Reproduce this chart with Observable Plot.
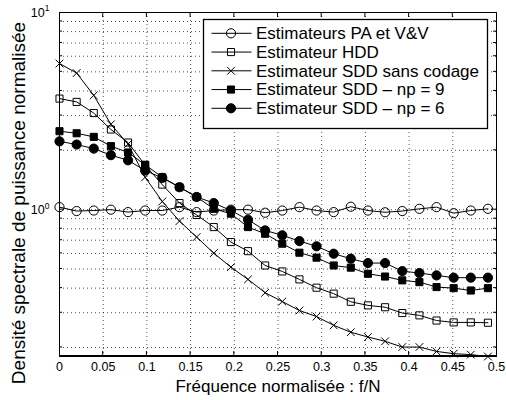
<!DOCTYPE html>
<html><head><meta charset="utf-8">
<script src="https://cdn.jsdelivr.net/npm/d3@7"></script>
<script src="https://cdn.jsdelivr.net/npm/@observablehq/plot@0.6"></script>
<style>
body{margin:0;background:#fff;}
#chart svg{font-family:"Liberation Sans",Arial,Helvetica,sans-serif;}
</style>
</head><body><div id="chart"></div>
<script>
const freq = [0, 0.0196, 0.0392, 0.0588, 0.0784, 0.098, 0.1176, 0.1373, 0.1569, 0.1765, 0.1961, 0.2157, 0.2353, 0.2549, 0.2745, 0.2941, 0.3137, 0.3333, 0.3529, 0.3725, 0.3922, 0.4118, 0.4314, 0.451, 0.4706, 0.4902];
const paVV    = [1.03, 0.984, 0.99, 1.0, 0.972, 0.99, 0.99, 1.03, 0.972, 0.99, 1.0, 1.0, 0.965, 0.99, 1.03, 0.99, 0.972, 1.035, 0.99, 0.97, 0.984, 1.01, 1.03, 0.96, 0.99, 1.01];
const hdd     = [3.66, 3.52, 3.09, 2.55, 2.19, 1.68, 1.34, 1.08, 0.94, 0.816, 0.685, 0.616, 0.521, 0.486, 0.443, 0.402, 0.375, 0.341, 0.327, 0.320, 0.299, 0.291, 0.274, 0.268, 0.268, 0.267];
const sddSans = [5.51, 4.93, 3.80, 2.71, 2.15, 1.46, 1.10, 0.875, 0.726, 0.602, 0.511, 0.443, 0.379, 0.342, 0.308, 0.287, 0.259, 0.239, 0.226, 0.215, 0.201, 0.201, 0.191, 0.186, 0.184, 0.180];
const sddNp9  = [2.50, 2.44, 2.34, 2.10, 1.95, 1.69, 1.46, 1.30, 1.16, 1.01, 0.954, 0.816, 0.755, 0.672, 0.605, 0.571, 0.521, 0.508, 0.473, 0.458, 0.438, 0.429, 0.405, 0.400, 0.389, 0.400];
const sddNp6  = [2.22, 2.14, 2.04, 1.89, 1.78, 1.58, 1.45, 1.30, 1.16, 1.08, 0.99, 0.889, 0.785, 0.741, 0.693, 0.652, 0.598, 0.564, 0.536, 0.536, 0.488, 0.477, 0.464, 0.452, 0.452, 0.452];
const seriesNames = ["Estimateurs PA et V&V", "Estimateur HDD", "Estimateur SDD sans codage", "Estimateur SDD \u2013 np = 9", "Estimateur SDD \u2013 np = 6"];
const xTicks = [0, 0.05, 0.1, 0.15, 0.2, 0.25, 0.3, 0.35, 0.4, 0.45, 0.5];
const xTickLabels = ["0", "0.05", "0.1", "0.15", "0.2", "0.25", "0.3", "0.35", "0.4", "0.45", "0.5"];
const xGrid = [0.05, 0.1, 0.15, 0.2, 0.25, 0.3, 0.35, 0.4, 0.45];
const yGrid = [0.2, 0.3, 0.4, 0.5, 0.6, 0.7, 0.8, 0.9, 1, 2, 3, 4, 5, 6, 7, 8, 9];
const yMajor = [1, 10];
const yDomain = [0.18, 10];
const xLabel = "Fr\u00e9quence normalis\u00e9e : f/N";
const yLabel = "Densit\u00e9 spectrale de puissance normalis\u00e9e";

const seriesValues = [paVV, hdd, sddSans, sddNp9, sddNp6];
const seriesStyle = [
  {symbol: "circle", r: 4.6, fill: "none"},
  {symbol: "square", r: 4.0, fill: "none"},
  {symbol: "times", r: 3.6, fill: "none"},
  {symbol: "square", r: 4.0, fill: "black"},
  {symbol: "circle", r: 4.6, fill: "black"}
];
const rows = seriesValues.map((vals, si) => freq.map((f, i) => ({f, v: vals[i], s: seriesNames[si]})));

const marks = [
  Plot.gridX(xGrid, {stroke: "#000", strokeOpacity: 0.7, strokeDasharray: "1,3"}),
  Plot.gridY(yGrid, {stroke: "#000", strokeOpacity: 0.7, strokeDasharray: "1,3"})
];
rows.forEach((data, si) => {
  marks.push(Plot.line(data, {x: "f", y: "v", stroke: "black", strokeWidth: 1}));
  const st = seriesStyle[si];
  marks.push(Plot.dot(data, {x: "f", y: "v", symbol: st.symbol, r: st.r, stroke: "black", strokeWidth: 1, fill: st.fill}));
});
marks.push(Plot.frame({stroke: "black", strokeWidth: 1}));
marks.push(Plot.axisX(xTicks, {tickSize: 0, tickPadding: 6, fontSize: 12.5, tickFormat: (d) => xTickLabels[xTicks.indexOf(d)], label: null}));
marks.push(Plot.axisY(yMajor, {tickSize: 0, tickPadding: 10, fontSize: 12.5, tickFormat: () => "10", label: null}));
marks.push(Plot.text([xLabel], {frameAnchor: "bottom", lineAnchor: "bottom", textAnchor: "middle", dy: 35, fontSize: 17, text: d => d}));
marks.push(Plot.text([yLabel], {frameAnchor: "left", rotate: -90, dx: -35, dy: 18.5, fontSize: 19, textAnchor: "middle", lineAnchor: "bottom", text: d => d}));

const plot = Plot.plot({
  width: 506, height: 400,
  marginLeft: 59, marginRight: 10, marginTop: 12, marginBottom: 44,
  x: {domain: [0, 0.5]},
  y: {type: "log", domain: yDomain},
  style: {background: "white", color: "black", fontFamily: "'Liberation Sans', Arial, sans-serif"},
  marks
});
document.getElementById("chart").appendChild(plot);

const svg = d3.select(plot);
const xs = plot.scale("x"), ys = plot.scale("y");
const X0 = xs.apply(0), X1 = xs.apply(0.5), Y0 = ys.apply(yDomain[0]), Y1 = ys.apply(10);

// superscripts on y tick labels
svg.selectAll("g[aria-label='y-axis tick label'] text").each(function(d, i) {
  const t = d3.select(this);
  t.append("tspan").attr("font-size", 8.5).attr("dy", "-0.6em").text(i === 0 ? "0" : "1");
});

// inside tick marks
const tk = svg.append("g").attr("stroke", "black").attr("stroke-width", 1);
xGrid.forEach(v => {
  const px = xs.apply(v);
  tk.append("line").attr("x1", px).attr("x2", px).attr("y1", Y0).attr("y2", Y0 - 5);
  tk.append("line").attr("x1", px).attr("x2", px).attr("y1", Y1).attr("y2", Y1 + 5);
});
yGrid.forEach(v => {
  const py = ys.apply(v);
  const len = v === 1 ? 5 : 3;
  tk.append("line").attr("x1", X0).attr("x2", X0 + len).attr("y1", py).attr("y2", py);
  tk.append("line").attr("x1", X1).attr("x2", X1 - len).attr("y1", py).attr("y2", py);
});
tk.append("line").attr("x1", X0).attr("x2", X1).attr("y1", Y0).attr("y2", Y0).attr("stroke-width", 2);

// legend
const lg = svg.append("g");
lg.append("rect").attr("x", 203.5).attr("y", 19.5).attr("width", 284).attr("height", 109)
  .attr("fill", "white").attr("stroke", "black").attr("stroke-width", 1.3);
seriesNames.forEach((name, i) => {
  const cy = 33.3 + i * 18.75;
  const st = seriesStyle[i];
  lg.append("line").attr("x1", 211.5).attr("x2", 251.5).attr("y1", cy).attr("y2", cy).attr("stroke", "black");
  lg.append("path").attr("transform", `translate(231,${cy})`)
    .attr("d", d3.symbol(st.symbol === "circle" ? d3.symbolCircle : st.symbol === "square" ? d3.symbolSquare : d3.symbolTimes, st.r * st.r * Math.PI)())
    .attr("fill", st.fill).attr("stroke", "black");
  lg.append("text").attr("x", 256).attr("y", cy + 5.8).attr("font-size", 17).attr("text-anchor", "start").attr("fill", "black").text(name);
});
</script>
</body></html>
